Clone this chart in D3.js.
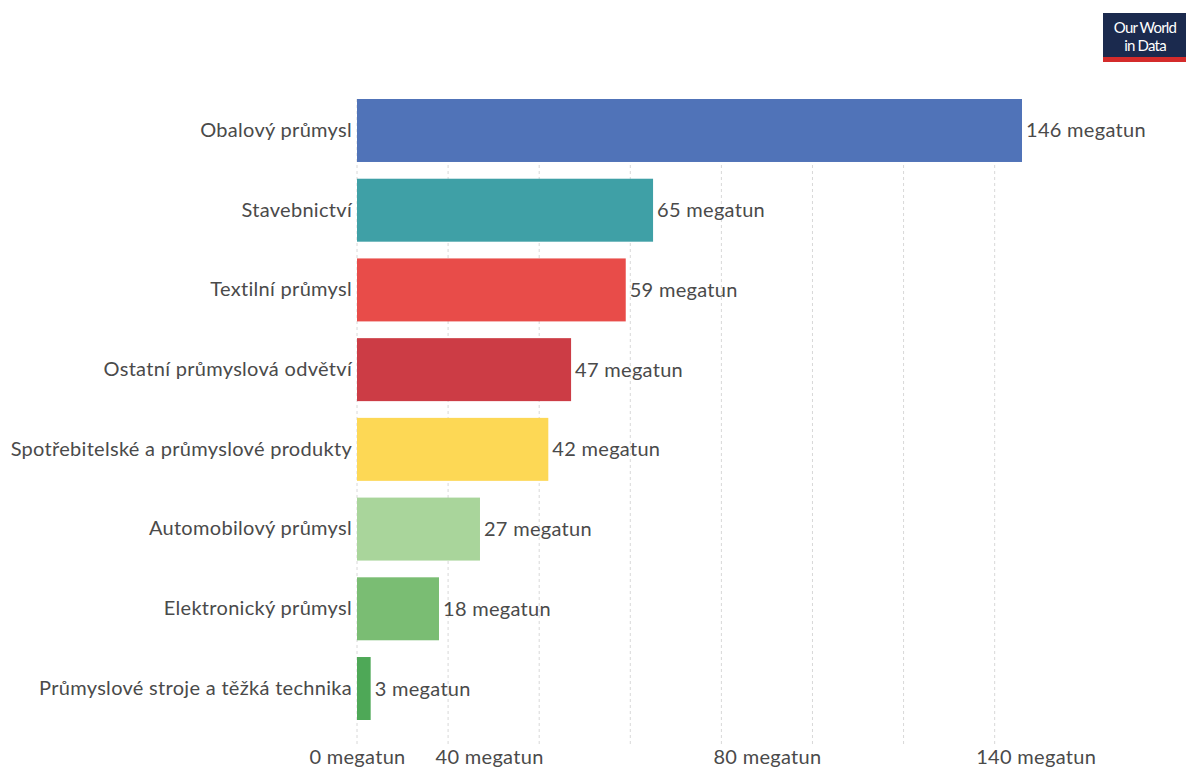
<!DOCTYPE html>
<html>
<head>
<meta charset="utf-8">
<script src="https://cdn.jsdelivr.net/npm/d3@7"></script>
<style>
  body { margin: 0; background: #fff; }
  svg { display: block; font-family: Lato, "Noto Sans", sans-serif; }
</style>
</head>
<body>
<div id="chart"></div>
<script>
var WIDTH = 1186;
var HEIGHT = 767;
var FONT = 'Lato, "Noto Sans", sans-serif';

var categories = [
  'Obalový průmysl',
  'Stavebnictví',
  'Textilní průmysl',
  'Ostatní průmyslová odvětví',
  'Spotřebitelské a průmyslové produkty',
  'Automobilový průmysl',
  'Elektronický průmysl',
  'Průmyslové stroje a těžká technika'
];
var values = [146, 65, 59, 47, 42, 27, 18, 3];
var colors = ['#5073b8', '#3fa0a6', '#e84c49', '#cc3c45', '#fdd855', '#a9d59b', '#7abd73', '#4ea857'];

var gridValues = [0, 20, 40, 60, 80, 100, 120, 140];
// tick labels sit where the reference draws them, not on the grid
var tickLabels = ['0 megatun', '40 megatun', '80 megatun', '140 megatun'];
var tickAt = [0, 29, 90, 149];

var x = d3.scaleLinear()
  .domain([0, 146])
  .range([357, 1022]);

var y = d3.scaleBand()
  .domain(categories)
  .range([99, 720])
  .paddingInner(0.21)
  .paddingOuter(0);

var svg = d3.select('#chart').append('svg')
  .attr('width', WIDTH)
  .attr('height', HEIGHT);

function styleText(sel) {
  sel.attr('font-family', FONT)
    .attr('font-size', 20)
    .attr('letter-spacing', 0.3)
    .attr('fill', '#4a4a4a');
}

// grid
svg.append('g').attr('class', 'grid')
  .selectAll('line')
  .data(gridValues)
  .enter().append('line')
  .attr('x1', function(d) { return x(d); })
  .attr('x2', function(d) { return x(d); })
  .attr('y1', 99)
  .attr('y2', 745)
  .attr('stroke', '#d8d8d8')
  .attr('stroke-width', 1)
  .attr('stroke-dasharray', '3,3');

// bars
svg.append('g').attr('class', 'bars')
  .selectAll('rect')
  .data(values)
  .enter().append('rect')
  .attr('x', x(0))
  .attr('y', function(d, i) { return y(categories[i]); })
  .attr('width', function(d) { return x(d) - x(0); })
  .attr('height', y.bandwidth())
  .attr('fill', function(d, i) { return colors[i]; });

// value labels
svg.append('g').attr('class', 'values')
  .selectAll('text')
  .data(values)
  .enter().append('text')
  .attr('x', function(d) { return x(d) + 4; })
  .attr('y', function(d, i) { return y(categories[i]) + y.bandwidth() / 2; })
  .attr('dy', '0.35em')
  .text(function(d) { return d + ' megatun'; })
  .call(styleText);

// category axis
var yAxis = d3.axisLeft(y).tickSize(0).tickPadding(4);
var gy = svg.append('g')
  .attr('transform', 'translate(' + (x(0) - 1) + ',0)')
  .call(yAxis);
gy.select('.domain').remove();
gy.selectAll('text').call(styleText);

// x axis labels
var xAxis = d3.axisBottom(x)
  .tickValues(tickAt)
  .tickSize(0)
  .tickPadding(0)
  .tickFormat(function(d, i) { return tickLabels[i]; });
var gx = svg.append('g')
  .attr('transform', 'translate(0,750)')
  .call(xAxis);
gx.select('.domain').remove();
gx.selectAll('text').call(styleText);

// logo
var logo = svg.append('g').attr('transform', 'translate(1103,13)');
logo.append('rect').attr('width', 83).attr('height', 46).attr('fill', '#1b2a4e');
logo.append('rect').attr('y', 44).attr('width', 83).attr('height', 5).attr('fill', '#d42b2b');
logo.append('text').attr('x', 42).attr('y', 20).attr('text-anchor', 'middle')
  .attr('fill', '#fff').attr('font-family', FONT).attr('font-size', 15)
  .attr('letter-spacing', -0.8).text('Our World');
logo.append('text').attr('x', 42).attr('y', 38).attr('text-anchor', 'middle')
  .attr('fill', '#fff').attr('font-family', FONT).attr('font-size', 15)
  .attr('letter-spacing', -0.8).text('in Data');
</script>
</body>
</html>
